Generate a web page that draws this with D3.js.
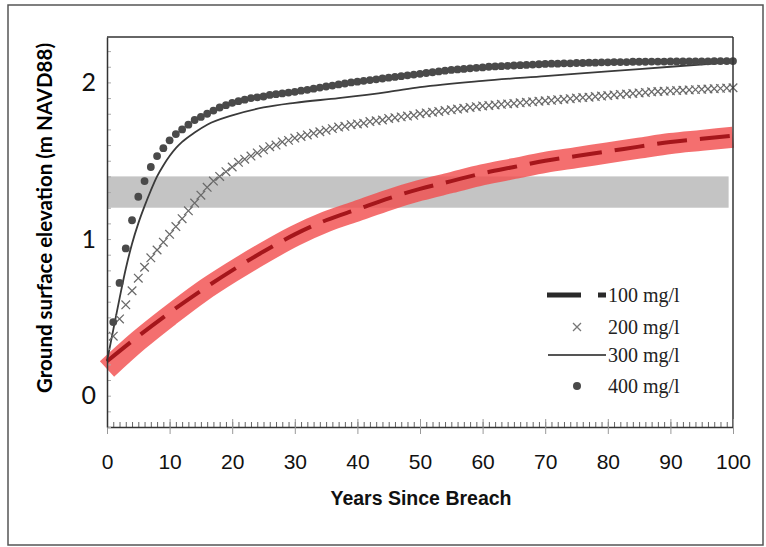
<!DOCTYPE html>
<html>
<head>
<meta charset="utf-8">
<script src="https://cdn.jsdelivr.net/npm/d3@7"></script>
<style>
  html, body { margin: 0; padding: 0; background: #fff; }
  svg { display: block; }
</style>
</head>
<body>
<svg id="chart" width="766" height="547"></svg>
<script>
// ---- data ----
const years = d3.range(1, 101);

// 400 mg/l (dots), one value per year 1..100
const sed400 = [
  0.47, 0.72, 0.94, 1.12, 1.27, 1.37, 1.46, 1.53, 1.58, 1.63,
  1.67, 1.70, 1.73, 1.76, 1.78, 1.80, 1.82, 1.84, 1.855, 1.87,
  1.88, 1.89, 1.90, 1.905, 1.91, 1.92, 1.925, 1.93, 1.935, 1.94,
  1.947, 1.953, 1.96, 1.967, 1.974, 1.98, 1.987, 1.993, 2.0, 2.005,
  2.01, 2.015, 2.02, 2.025, 2.03, 2.035, 2.04, 2.045, 2.05, 2.055,
  2.06, 2.065, 2.07, 2.075, 2.08, 2.083, 2.086, 2.09, 2.093, 2.096,
  2.10, 2.102, 2.104, 2.106, 2.108, 2.11, 2.112, 2.114, 2.116, 2.118,
  2.12, 2.12, 2.122, 2.122, 2.124, 2.124, 2.126, 2.126, 2.128, 2.128,
  2.13, 2.13, 2.13, 2.132, 2.132, 2.132, 2.133, 2.133, 2.133, 2.134,
  2.134, 2.134, 2.135, 2.135, 2.135, 2.135, 2.136, 2.136, 2.136, 2.136
];

// 200 mg/l (crosses), one value per year 1..100
const sed200 = [
  0.38, 0.49, 0.58, 0.67, 0.75, 0.82, 0.88, 0.93, 0.98, 1.03,
  1.08, 1.13, 1.18, 1.23, 1.28, 1.33, 1.37, 1.40, 1.43, 1.46,
  1.49, 1.51, 1.53, 1.55, 1.57, 1.59, 1.60, 1.62, 1.63, 1.645,
  1.655, 1.665, 1.675, 1.685, 1.695, 1.705, 1.715, 1.72, 1.73, 1.735,
  1.74, 1.75, 1.755, 1.76, 1.77, 1.775, 1.78, 1.785, 1.79, 1.80,
  1.805, 1.81, 1.815, 1.82, 1.825, 1.83, 1.835, 1.84, 1.845, 1.85,
  1.853, 1.856, 1.86, 1.863, 1.866, 1.87, 1.873, 1.876, 1.88, 1.883,
  1.886, 1.89, 1.893, 1.896, 1.90, 1.903, 1.906, 1.91, 1.913, 1.916,
  1.92, 1.923, 1.926, 1.93, 1.933, 1.936, 1.94, 1.942, 1.944, 1.946,
  1.948, 1.95, 1.952, 1.954, 1.956, 1.958, 1.96, 1.962, 1.964, 1.966
];

// 300 mg/l (solid line)
const years300 = [0, 1, 2, 3, 4, 5, 6, 7, 8, 9, 10, 11, 12, 14, 16, 20, 25, 30, 37, 45, 50, 60, 70, 80, 90, 100];
const sed300   = [0.22, 0.42, 0.62, 0.81, 0.97, 1.10, 1.21, 1.31, 1.40, 1.47, 1.53, 1.58, 1.62, 1.68, 1.73, 1.79, 1.84, 1.87, 1.90, 1.94, 1.97, 2.01, 2.04, 2.07, 2.10, 2.13];

// 100 mg/l (dashed line) and its highlight band
const years100 = [0, 5, 10, 15, 20, 25, 30, 35, 40, 45, 50, 55, 60, 65, 70, 75, 80, 85, 90, 95, 100];
const sed100   = [0.22, 0.38, 0.53, 0.67, 0.80, 0.92, 1.03, 1.12, 1.19, 1.26, 1.32, 1.37, 1.42, 1.46, 1.50, 1.53, 1.56, 1.59, 1.62, 1.64, 1.66];
const band100  = [0.17, 0.35, 0.51, 0.66, 0.79, 0.91, 1.02, 1.11, 1.18, 1.25, 1.31, 1.36, 1.41, 1.45, 1.49, 1.52, 1.55, 1.58, 1.61, 1.63, 1.65];

// shaded elevation range
const bandRange = [1.2, 1.4];

const xTicks = [0, 10, 20, 30, 40, 50, 60, 70, 80, 90, 100];
const yTicks = [0, 1, 2];
const legendLabels = ["100 mg/l", "200 mg/l", "300 mg/l", "400 mg/l"];

// ---- layout ----
const svg = d3.select("#chart");
const L = 107, R = 733, T = 37, B = 427;
const x = d3.scaleLinear().domain([0, 100]).range([L, R]);
const y = d3.scaleLinear().domain([-0.2, 2.29]).range([B, T]);

// outer frame
svg.append("rect").attr("x", 8).attr("y", 5).attr("width", 755).attr("height", 540)
  .attr("fill", "none").attr("stroke", "#555").attr("stroke-width", 1.5);

// grey range band
svg.append("rect")
  .attr("x", x(0)).attr("width", x(99.3) - x(0))
  .attr("y", y(bandRange[1])).attr("height", y(bandRange[0]) - y(bandRange[1]))
  .attr("fill", "#c4c4c4");

// 100 mg/l red band
const line = (xs, ys) => d3.line().x((d, i) => x(xs[i])).y(d => y(d)).curve(d3.curveMonotoneX)(ys);
svg.append("path").attr("d", line(years100, band100))
  .attr("fill", "none").attr("stroke", "#f24f4f").attr("stroke-opacity", 0.82)
  .attr("stroke-width", 21);

// 300 mg/l line
svg.append("path").attr("d", line(years300, sed300))
  .attr("fill", "none").attr("stroke", "#3a3a3a").attr("stroke-width", 1.8);

// 200 mg/l crosses
const cs = 4.3;
svg.append("g").selectAll("path").data(sed200).join("path")
  .attr("d", (d, i) => {
    const cx = x(years[i]), cy = y(d);
    return `M${cx - cs},${cy - cs}L${cx + cs},${cy + cs}M${cx - cs},${cy + cs}L${cx + cs},${cy - cs}`;
  })
  .attr("stroke", "#6a6a6a").attr("stroke-width", 1.25).attr("fill", "none");

// 400 mg/l dots
svg.append("g").selectAll("circle").data(sed400).join("circle")
  .attr("cx", (d, i) => x(years[i])).attr("cy", d => y(d)).attr("r", 3.9)
  .attr("fill", "#4a4a4a");

// 100 mg/l dashed line
svg.append("path").attr("d", line(years100, sed100))
  .attr("fill", "none").attr("stroke", "#a5161b").attr("stroke-width", 4)
  .attr("stroke-dasharray", "30,13");

// ---- axes ----
const axisColor = "#333";
// frame top and right
svg.append("line").attr("x1", L).attr("x2", R).attr("y1", T).attr("y2", T).attr("stroke", axisColor).attr("stroke-width", 1.5);
svg.append("line").attr("x1", R).attr("x2", R).attr("y1", T).attr("y2", B).attr("stroke", axisColor).attr("stroke-width", 1.5);

// x minor ticks (every year, inside)
const gxMinor = svg.append("g").attr("transform", `translate(0,${B})`)
  .call(d3.axisTop(x).tickValues(d3.range(0, 101)).tickSize(5).tickFormat(""));
gxMinor.select(".domain").remove();
gxMinor.selectAll("line").attr("stroke", "#666");

// x major ticks and labels
const gx = svg.append("g").attr("transform", `translate(0,${B})`)
  .call(d3.axisBottom(x).tickValues(xTicks).tickSizeInner(7).tickSizeOuter(0).tickPadding(20).tickFormat(d3.format("d")));
gx.select(".domain").attr("stroke", axisColor).attr("stroke-width", 1.5);
gx.selectAll("line").attr("stroke", "#999").attr("y1", -8);
gx.selectAll("text").attr("font-family", "'Liberation Sans', Arial, sans-serif").attr("font-size", 21).attr("fill", "#111");

// y minor ticks (every 0.1, inside)
const gyMinor = svg.append("g").attr("transform", `translate(${L},0)`)
  .call(d3.axisRight(y).tickValues(d3.range(-2, 23).map(v => v / 10)).tickSize(4).tickFormat(""));
gyMinor.select(".domain").remove();
gyMinor.selectAll("line").attr("stroke", "#aaa");

// y labels
const gy = svg.append("g").attr("transform", `translate(${L},0)`)
  .call(d3.axisLeft(y).tickValues(yTicks).tickSize(0).tickPadding(11).tickFormat(d3.format("d")));
gy.select(".domain").attr("stroke", axisColor).attr("stroke-width", 1.5);
gy.selectAll("text").attr("font-family", "Lato, 'Open Sans', sans-serif").attr("font-size", 25).attr("fill", "#111");

// axis titles
svg.append("text").attr("x", 421).attr("y", 505).attr("text-anchor", "middle")
  .attr("font-family", "'Liberation Sans', Arial, sans-serif").attr("font-weight", "bold").attr("font-size", 19.5)
  .attr("fill", "#111").text("Years Since Breach");

svg.append("text").attr("transform", "translate(52,218) rotate(-90)").attr("text-anchor", "middle")
  .attr("font-family", "Lato, 'Open Sans', sans-serif").attr("font-weight", "bold").attr("font-size", 20.5)
  .attr("fill", "#000").text("Ground surface elevation (m NAVD88)");

// ---- legend ----
const legY = [295, 327, 355, 386];
const lg = svg.append("g");
lg.append("line").attr("x1", 547).attr("x2", 581).attr("y1", legY[0]).attr("y2", legY[0]).attr("stroke", "#2a2a2a").attr("stroke-width", 5);
lg.append("line").attr("x1", 598).attr("x2", 606).attr("y1", legY[0]).attr("y2", legY[0]).attr("stroke", "#2a2a2a").attr("stroke-width", 5);
lg.append("path").attr("d", `M${577 - 4},${legY[1] - 4}L${577 + 4},${legY[1] + 4}M${577 - 4},${legY[1] + 4}L${577 + 4},${legY[1] - 4}`)
  .attr("stroke", "#777").attr("stroke-width", 1.3);
lg.append("line").attr("x1", 548).attr("x2", 606).attr("y1", legY[2]).attr("y2", legY[2]).attr("stroke", "#555").attr("stroke-width", 2);
lg.append("circle").attr("cx", 577).attr("cy", legY[3]).attr("r", 4).attr("fill", "#4a4a4a");
lg.selectAll("text").data(legendLabels).join("text")
  .attr("x", 608).attr("y", (d, i) => legY[i] + 7)
  .attr("font-family", "'Liberation Serif', 'Times New Roman', serif").attr("font-size", 20).attr("fill", "#222")
  .text(d => d);
</script>
</body>
</html>
